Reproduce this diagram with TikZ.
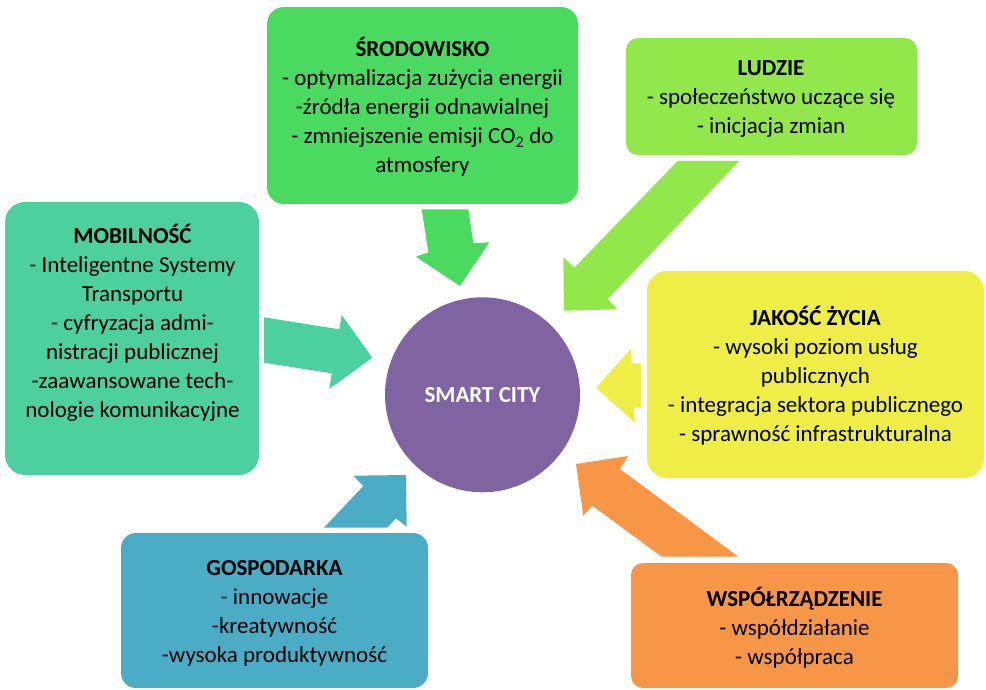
\documentclass[tikz,border=0pt]{standalone}
\usepackage{fontspec}
\setmainfont{Carlito}
\definecolor{cSrod}{RGB}{75,218,96}
\definecolor{cLudzie}{RGB}{146,232,75}
\definecolor{cJakosc}{RGB}{238,238,70}
\definecolor{cWsp}{RGB}{247,150,70}
\definecolor{cGosp}{RGB}{75,172,198}
\definecolor{cMob}{RGB}{76,208,160}
\definecolor{cCity}{RGB}{128,100,162}
\begin{document}
\begin{tikzpicture}[x=1pt,y=-1pt,
  box/.style={draw=none, inner sep=0pt, outer sep=0pt},
  txt/.style={align=center, inner sep=0pt, font=\fontsize{23}{29}\selectfont},
  blockarrow/.style={draw=none}]
\useasboundingbox (0,0) rectangle (986,690);

% boxes
\node[box, fill=cSrod, rounded corners=17pt, minimum width=311pt, minimum height=197pt] (srod) at (422.5,105.5) {};
\node[box, fill=cLudzie, rounded corners=12pt, minimum width=291pt, minimum height=117pt] (ludzie) at (771.5,96.5) {};
\node[box, fill=cJakosc, rounded corners=20pt, minimum width=337pt, minimum height=207pt] (jakosc) at (815.5,374.5) {};
\node[box, fill=cWsp, rounded corners=12pt, minimum width=327pt, minimum height=125pt] (wsp) at (794.5,625.5) {};
\node[box, fill=cGosp, rounded corners=15pt, minimum width=307pt, minimum height=155pt] (gosp) at (274.5,610.5) {};
\node[box, fill=cMob, rounded corners=20pt, minimum width=254pt, minimum height=273pt] (mob) at (132,338.5) {};
\node[circle, fill=cCity, draw=none, minimum size=195pt, inner sep=0pt] (city) at (482.5,394.8) {};

% block arrows
\fill[cSrod] (421.7,209.3) -- (468.3,209.3) -- (473.3,243.3) -- (489.3,242.3) -- (460,286) -- (416,256.7) -- (428.3,252.3) -- cycle;
\fill[cLudzie] (677.7,161) -- (739.3,161) -- (607.7,299) -- (617.3,309.3) -- (564,310.7) -- (563.3,257.3) -- (574.3,267.7) -- cycle;
\fill[cMob] (264,317.3) -- (339.3,329.3) -- (341.7,315) -- (372.3,357.7) -- (329.3,389) -- (331.7,373.3) -- (264,362.7) -- cycle;
\fill[cGosp] (324,527.7) -- (363.3,486) -- (353.3,475.7) -- (406,475) -- (406.7,526.7) -- (396,518.3) -- (387.3,527.7) -- cycle;
\fill[cJakosc] (596,387.7) -- (630.7,349) -- (631.7,363.3) -- (641,363.3) -- (641,407.7) -- (634,407.7) -- (635,422.7) -- cycle;
\fill[cWsp] (576,464) -- (628.3,456) -- (620,469) -- (738.3,556.7) -- (661.7,556.7) -- (592.3,505.7) -- (583.3,515.7) -- cycle;

% texts
\node[txt] (srodT) at (422.5,106.7) {\textbf{ŚRODOWISKO}\\- optymalizacja zużycia energii\\-źródła energii odnawialnej\\- zmniejszenie emisji CO\textsubscript{2} do\\atmosfery};
\node[txt] (ludzieT) at (771,98.8) {\textbf{LUDZIE}\\- społeczeństwo uczące się\\- inicjacja zmian};
\node[txt] (jakoscT) at (815.5,375.8) {\textbf{JAKOŚĆ ŻYCIA}\\- wysoki poziom usług\\publicznych\\- integracja sektora publicznego\\- sprawność infrastrukturalna};
\node[txt] (wspT) at (794.5,627.5) {\textbf{WSPÓŁRZĄDZENIE}\\- współdziałanie\\- współpraca};
\node[txt] (gospT) at (274.5,613) {\textbf{GOSPODARKA}\\- innowacje\\-kreatywność\\-wysoka produktywność};
\node[txt] (mobT) at (132.5,323.3) {\textbf{MOBILNOŚĆ}\\- Inteligentne Systemy\\Transportu\\- cyfryzacja admi-\\nistracji publicznej\\-zaawansowane tech-\\nologie komunikacyjne};
\node[txt, text=white, font=\bfseries\fontsize{23}{29}\selectfont] (cityT) at (city.center) {SMART CITY};
\end{tikzpicture}
\end{document}
